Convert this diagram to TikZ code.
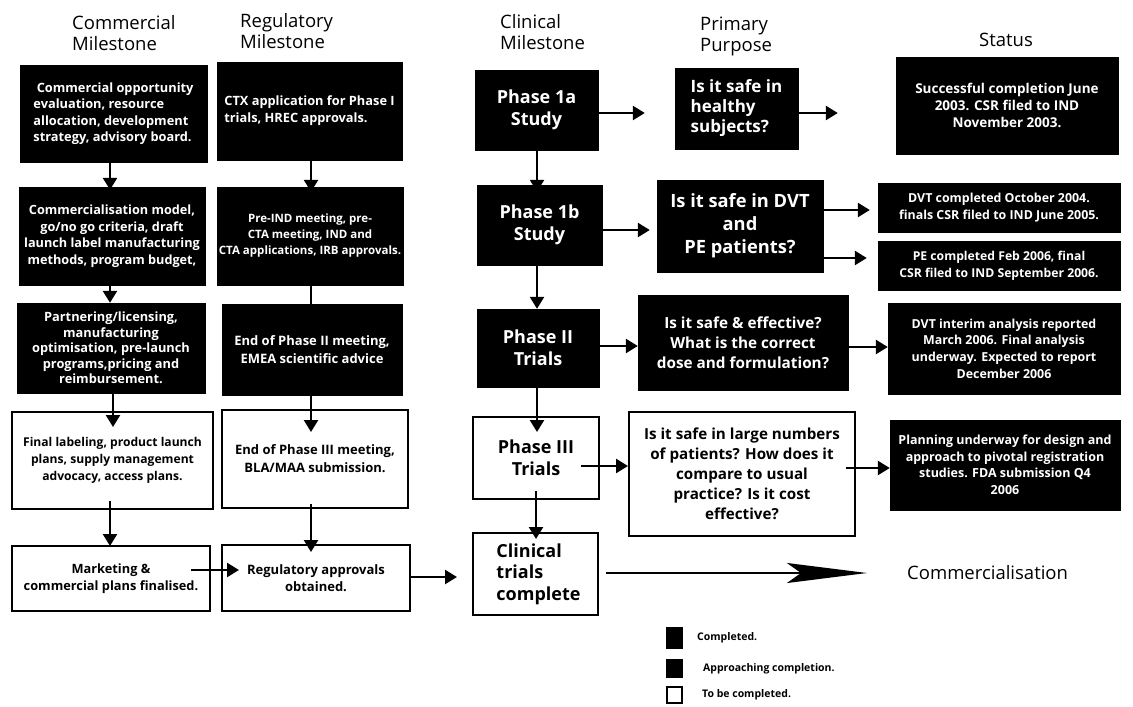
\documentclass[tikz,border=0pt]{standalone}
\usepackage{fontspec}
\setmainfont{Open Sans}
\usetikzlibrary{arrows.meta}
\newcommand{\fs}[2]{\fontsize{#1}{#2}\selectfont}
\tikzset{
  box/.style={rectangle, inner sep=2pt, align=center},
  blk/.style={box, fill=black, draw=black, text=white, font=\bfseries},
  wht/.style={box, fill=white, draw=black, line width=2pt, font=\bfseries},
  arr/.style={line width=2.4pt, -{Triangle[length=12pt,width=14pt]}},
  plain/.style={line width=2.4pt},
  hdr/.style={align=left, font=\fs{18.5}{21}, inner sep=0pt},
  lgsq/.style={rectangle, draw=black, line width=1.5pt, minimum width=15pt, inner sep=0pt},
  lgtx/.style={anchor=west, font=\bfseries\fs{10.5}{12}, inner sep=0pt}
}
\begin{document}
\begin{tikzpicture}[x=1pt,y=-1pt]
\useasboundingbox (0,0) rectangle (1133,707);
% headers
\node[hdr, anchor=west] (h1) at (72,33) {Commercial\\Milestone};
\node[hdr, anchor=west] (h2) at (240,31) {Regulatory\\Milestone};
\node[hdr, anchor=west] (h3) at (500,32) {Clinical\\Milestone};
\node[hdr, anchor=west] (h4) at (700,36) {Primary\\Purpose};
\node[hdr] (h5) at (1006,40) {Status};
% commercial column
\node[blk, minimum width=187pt, minimum height=97pt, align=left, font=\bfseries\fs{12.8}{16.5}] (c1) at (113.5,113.5)
  {\ Commercial opportunity\\evaluation, resource\\allocation, development\\strategy, advisory board.};
\node[blk, minimum width=186pt, minimum height=98pt, font=\bfseries\fs{12.7}{16.5}] (c2) at (112,236)
  {Commercialisation model,\\go/no go criteria, draft\\launch label manufacturing\\methods, program budget,};
\node[blk, minimum width=188pt, minimum height=90pt, font=\bfseries\fs{12.8}{15.5}] (c3) at (111,348)
  {Partnering/licensing,\\manufacturing\\optimisation, pre-launch\\programs,pricing and\\reimbursement.};
\node[wht, minimum width=201pt, minimum height=97pt, font=\bfseries\fs{12.1}{17}] (c4) at (112.5,460.5)
  {Final labeling, product launch\\plans, supply management\\advocacy, access plans.};
\node[wht, minimum width=198pt, minimum height=65pt, font=\bfseries\fs{12.8}{17}] (c5) at (111,578.5)
  {Marketing \&\\commercial plans finalised.};
% regulatory column
\node[blk, minimum width=185pt, minimum height=98pt, align=left, font=\bfseries\fs{12.8}{17}] (r1) at (309.5,111)
  {CTX application for Phase I\\trials, HREC approvals.};
\node[blk, minimum width=184pt, minimum height=98pt, font=\bfseries\fs{11.5}{16}] (r2) at (310,236)
  {Pre-IND meeting, pre-\\CTA meeting, IND and\\CTA applications, IRB approvals.};
\node[blk, minimum width=180pt, minimum height=91pt, font=\bfseries\fs{13}{18}] (r3) at (312,349.5)
  {End of Phase II meeting,\\EMEA scientific advice};
\node[wht, minimum width=186pt, minimum height=98pt, font=\bfseries\fs{13}{18}] (r4) at (315,459)
  {End of Phase III meeting,\\BLA/MAA submission.};
\node[wht, minimum width=188pt, minimum height=66pt, font=\bfseries\fs{13}{17}] (r5) at (316,578)
  {Regulatory approvals\\obtained.};
% clinical column
\node[blk, minimum width=123pt, minimum height=80pt, font=\bfseries\fs{18}{22}] (p1a) at (536.5,110) {Phase 1a\\Study};
\node[blk, minimum width=125pt, minimum height=80pt, font=\bfseries\fs{18}{22}] (p1b) at (539.5,225) {Phase 1b\\Study};
\node[blk, minimum width=122pt, minimum height=78pt, font=\bfseries\fs{18}{22}] (p2) at (538,348) {Phase II\\Trials};
\node[wht, minimum width=126pt, minimum height=82pt, font=\bfseries\fs{18}{22}] (p3) at (536,458) {Phase III\\Trials};
\node[wht, minimum width=125pt, minimum height=82pt, align=left, font=\bfseries\fs{18}{21.5}] (ct) at (535.5,574) {\hspace*{6pt}Clinical\\\hspace*{6pt}trials\\\hspace*{6pt}complete};
% purpose column
\node[blk, minimum width=123pt, minimum height=81pt, align=left, font=\bfseries\fs{17}{20}] (q1) at (736.5,108.5)
  {Is it safe in\\healthy\\subjects?\hspace*{10pt}};
\node[blk, minimum width=166pt, minimum height=92pt, font=\bfseries\fs{18.3}{23}] (q2) at (740,226)
  {Is it safe in DVT\\and\\PE patients?};
\node[blk, minimum width=210pt, minimum height=95pt, font=\bfseries\fs{15.3}{20}] (q3) at (743,342.5)
  {Is it safe \& effective?\\What is the correct\\dose and formulation?};
\node[wht, minimum width=226pt, minimum height=124pt, font=\bfseries\fs{15.2}{20}] (q4) at (742,474)
  {Is it safe in large numbers\\of patients? How does it\\compare to usual\\practice? Is it cost\\effective?};
% status column
\node[blk, minimum width=222pt, minimum height=97pt, font=\bfseries\fs{13.5}{17}] (s1) at (1007,105.5)
  {Successful completion June\\2003. CSR filed to IND\\November 2003.};
\node[blk, minimum width=242pt, minimum height=49pt, font=\bfseries\fs{12.4}{17}] (s2) at (999,207.5)
  {DVT completed October 2004.\\finals CSR filed to IND June 2005.};
\node[blk, minimum width=242pt, minimum height=49pt, font=\bfseries\fs{12.2}{17}] (s3) at (999,265.5)
  {PE completed Feb 2006, final\\CSR filed to IND September 2006.};
\node[blk, minimum width=232pt, minimum height=91pt, font=\bfseries\fs{12.4}{16.7}] (s4) at (1004,348.5)
  {DVT interim analysis reported\\March 2006. Final analysis\\underway. Expected to report\\December 2006};
\node[blk, minimum width=230pt, minimum height=90pt, font=\bfseries\fs{12.5}{16.5}] (s5) at (1005,465)
  {Planning underway for design and\\approach to pivotal registration\\studies. FDA submission Q4\\2006};
% commercialisation
\node[anchor=west, inner sep=0pt, font=\fs{18.5}{20}] (comm) at (907,573) {Commercialisation};
% vertical arrows
\draw[arr] ([xshift=-3.5pt]c1.south) -- ([xshift=-2pt,yshift=-3pt]c2.north);
\draw[arr] ([xshift=-2pt]c2.south) -- ([xshift=-1pt]c3.north);
\draw[arr] ([xshift=2pt]c3.south) -- ([xshift=0.5pt,yshift=-16pt]c4.north);
\draw[arr] ([xshift=-2.5pt,yshift=9pt]c4.south) -- ([xshift=-1pt,yshift=-1pt]c5.north);
\draw[arr] ([xshift=1.5pt]r1.south) -- ([xshift=1pt,yshift=-5pt]r2.north);
\draw[plain] ([xshift=1pt]r2.south) -- ([xshift=-1pt]r3.north);
\draw[arr] ([xshift=-1pt]r3.south) -- ([xshift=-4pt,yshift=-23pt]r4.north);
\draw[arr] ([xshift=-4pt,yshift=5pt]r4.south) -- ([xshift=-5pt,yshift=-8pt]r5.north);
\draw[arr] ([xshift=0.5pt]p1a.south) -- ([xshift=-2.5pt,yshift=-7pt]p1b.north);
\draw[arr] ([xshift=-2.5pt]p1b.south) -- ([xshift=-1pt]p2.north);
\draw[arr] ([xshift=-1pt]p2.south) -- ([xshift=1pt,yshift=-16pt]p3.north);
\draw[arr] ([yshift=9pt]p3.south) -- ([xshift=0.5pt,yshift=-7pt]ct.north);
% horizontal arrows
\draw[arr] ([yshift=-3pt]p1a.east) -- ([xshift=-30pt,yshift=-4.5pt]q1.west);
\draw[arr] ([yshift=-4.5pt]q1.east) -- ([xshift=-58pt,yshift=-7.5pt]s1.west);
\draw[arr] ([yshift=-5pt]p1b.east) -- ([xshift=-7pt,yshift=-4pt]q2.west);
\draw[arr] ([yshift=16pt]q2.east) -- ([xshift=-8pt,yshift=-2.5pt]s2.west);
\draw[arr] ([yshift=-32pt]q2.east) -- ([xshift=-11pt,yshift=7.5pt]s3.west);
\draw[arr] ([yshift=2pt]p2.east) -- ([yshift=-3.5pt]q3.west);
\draw[arr] ([yshift=-4.5pt]q3.east) -- ([yshift=1.5pt]s4.west);
\draw[arr] ([xshift=-19pt,yshift=-8pt]p3.east) -- ([yshift=8pt]q4.west);
\draw[arr] ([xshift=-10pt,yshift=6pt]q4.east) -- ([yshift=-3pt]s5.west);
\draw[arr] ([xshift=-20pt,yshift=8.5pt]c5.east) -- ([xshift=18pt,yshift=8pt]r5.west);
\draw[arr] ([xshift=-2pt,yshift=1pt]r5.east) -- ([xshift=-15pt,yshift=-3pt]ct.west);
\draw[line width=2.5pt, -{Stealth[length=80pt,width=20pt,inset=14pt]}] ([xshift=7pt,yshift=1pt]ct.east) -- ([xshift=-40pt]comm.west);
% legend
\node[lgsq, fill=black, minimum height=20pt] (l1) at (674.5,638) {};
\node[lgsq, fill=black, minimum height=17pt] (l2) at (674.5,668.5) {};
\node[lgsq, fill=white, minimum height=16pt] (l3) at (674.5,695) {};
\node[lgtx] (t1) at (697,638) {Completed.};
\node[lgtx] (t2) at (703,668.5) {Approaching completion.};
\node[lgtx] (t3) at (702,695) {To be completed.};
\end{tikzpicture}
\end{document}
